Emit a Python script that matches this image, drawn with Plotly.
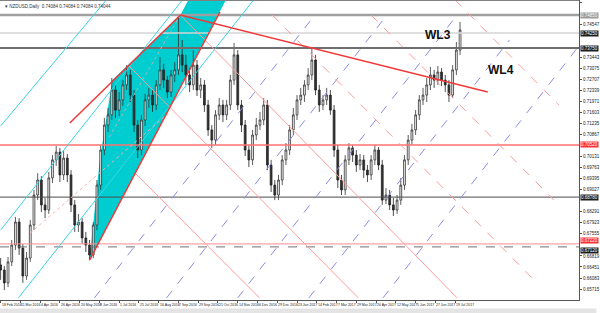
import plotly.graph_objects as go

# ---------------- data (NZDUSD daily, grouped 3 sessions per candle) ----------------
bar_step = 3
first_open = 0.6652
closes = [0.6635, 0.6592, 0.6662, 0.6718, 0.6795, 0.6708, 0.6615, 0.6675, 0.6785, 0.6885,
          0.6935, 0.6852, 0.6835, 0.6942, 0.7002, 0.7028, 0.6952, 0.7008, 0.6952, 0.6852,
          0.6785, 0.6795, 0.6742, 0.6718, 0.6685, 0.6785, 0.6918, 0.7035, 0.7118, 0.7152,
          0.7235, 0.7168, 0.7202, 0.7252, 0.7285, 0.7218, 0.7118, 0.7035, 0.7135, 0.7202,
          0.7218, 0.7185, 0.7252, 0.7302, 0.7268, 0.7228, 0.7285, 0.7302, 0.7352, 0.7318,
          0.7285, 0.7252, 0.7318, 0.7235, 0.7252, 0.7185, 0.7102, 0.7068, 0.7152, 0.7185,
          0.7152, 0.7185, 0.7268, 0.7352, 0.7185, 0.7118, 0.7035, 0.7002, 0.7085, 0.7118,
          0.7135, 0.7185, 0.6985, 0.6918, 0.6885, 0.6935, 0.7002, 0.7035, 0.7102, 0.7152,
          0.7202, 0.7218, 0.7252, 0.7285, 0.7335, 0.7235, 0.7185, 0.7202, 0.7218, 0.7168,
          0.7035, 0.6935, 0.6902, 0.7002, 0.7042, 0.7018, 0.6985, 0.7002, 0.6968, 0.6952,
          0.7002, 0.7035, 0.6985, 0.6868, 0.6885, 0.6852, 0.6835, 0.6868, 0.6918, 0.7002,
          0.7068, 0.7102, 0.7152, 0.7202, 0.7218, 0.7252, 0.7285, 0.7268, 0.7295, 0.7268,
          0.7252, 0.7218, 0.7302, 0.7368, 0.7435]
highs = [0.6675, 0.6648, 0.6678, 0.6735, 0.6812, 0.6808, 0.6722, 0.6695, 0.6802, 0.6902,
         0.6958, 0.6948, 0.6875, 0.6962, 0.7018, 0.7048, 0.7042, 0.7035, 0.7022, 0.6968,
         0.6868, 0.6822, 0.6808, 0.6762, 0.6735, 0.6795, 0.6935, 0.7052, 0.7142, 0.7175,
         0.7275, 0.7252, 0.7228, 0.7268, 0.7318, 0.7302, 0.7235, 0.7135, 0.7152, 0.7222,
         0.7242, 0.7235, 0.7268, 0.7345, 0.7322, 0.7282, 0.7302, 0.7328, 0.7485, 0.7402,
         0.7352, 0.7308, 0.7368, 0.7335, 0.7275, 0.7268, 0.7202, 0.7118, 0.7168, 0.7208,
         0.7202, 0.7202, 0.7285, 0.7392, 0.7368, 0.7202, 0.7135, 0.7052, 0.7102, 0.7142,
         0.7162, 0.7208, 0.7202, 0.7002, 0.6935, 0.6952, 0.7018, 0.7058, 0.7118, 0.7175,
         0.7218, 0.7242, 0.7268, 0.7308, 0.7375, 0.7352, 0.7252, 0.7218, 0.7242, 0.7235,
         0.7185, 0.7052, 0.6952, 0.7018, 0.7058, 0.7052, 0.7035, 0.7022, 0.7018, 0.6985,
         0.7018, 0.7052, 0.7045, 0.7002, 0.6908, 0.6902, 0.6875, 0.6885, 0.6942, 0.7018,
         0.7085, 0.7122, 0.7168, 0.7218, 0.7242, 0.7275, 0.7312, 0.7302, 0.7315, 0.7308,
         0.7285, 0.7268, 0.7318, 0.7395, 0.7462]
lows = [0.6602, 0.6568, 0.6578, 0.6648, 0.6702, 0.6685, 0.6592, 0.6602, 0.6662, 0.6768,
        0.6868, 0.6828, 0.6808, 0.6822, 0.6925, 0.6982, 0.6928, 0.6935, 0.6928, 0.6828,
        0.6762, 0.6762, 0.6722, 0.6695, 0.6668, 0.6675, 0.6768, 0.6902, 0.7018, 0.7095,
        0.7135, 0.7142, 0.7148, 0.7182, 0.7235, 0.7195, 0.7095, 0.7008, 0.7018, 0.7115,
        0.7175, 0.7162, 0.7168, 0.7235, 0.7242, 0.7208, 0.7212, 0.7262, 0.7285, 0.7295,
        0.7252, 0.7228, 0.7235, 0.7215, 0.7208, 0.7162, 0.7082, 0.7042, 0.7052, 0.7135,
        0.7128, 0.7135, 0.7168, 0.7252, 0.7168, 0.7095, 0.7015, 0.6978, 0.6985, 0.7068,
        0.7102, 0.7118, 0.6968, 0.6895, 0.6868, 0.6868, 0.6918, 0.6985, 0.7018, 0.7085,
        0.7135, 0.7185, 0.7195, 0.7235, 0.7268, 0.7218, 0.7162, 0.7168, 0.7185, 0.7152,
        0.7012, 0.6908, 0.6885, 0.6885, 0.6985, 0.6995, 0.6962, 0.6968, 0.6942, 0.6928,
        0.6935, 0.6985, 0.6968, 0.6852, 0.6855, 0.6835, 0.6815, 0.6822, 0.6852, 0.6902,
        0.6985, 0.7052, 0.7085, 0.7135, 0.7185, 0.7195, 0.7235, 0.7242, 0.7252, 0.7248,
        0.7228, 0.7195, 0.7208, 0.7285, 0.7352]

date_tick_bars = [0, 16, 32, 48, 64, 80, 96, 112, 128, 144, 160, 176, 192, 208, 224, 240,
                  256, 272, 288, 304, 320, 336, 352, 368]
date_tick_text = ["18 Feb 2016", "11 Mar 2016", "4 Apr 2016", "26 Apr 2016", "20 May 2016",
                  "9 Jun 2016", "1 Jul 2016", "25 Jul 2016", "16 Aug 2016", "7 Sep 2016",
                  "29 Sep 2016", "21 Oct 2016", "14 Nov 2016", "6 Dec 2016", "29 Dec 2016",
                  "23 Jan 2017", "14 Feb 2017", "7 Mar 2017", "29 Mar 2017", "20 Apr 2017",
                  "12 May 2017", "5 Jun 2017", "27 Jun 2017", "19 Jul 2017"]
price_ticks = [0.75283, 0.74915, 0.74547, 0.74179, 0.73811, 0.73443, 0.73075, 0.72707,
               0.72339, 0.71971, 0.71603, 0.71235, 0.70867, 0.70499, 0.70131, 0.69763,
               0.69395, 0.69027, 0.68659, 0.68291, 0.67923, 0.67555, 0.67187, 0.66819,
               0.66451, 0.66083, 0.65715]

# horizontal levels
level_prices = [0.7485, 0.7425, 0.7375, 0.7052, 0.6878, 0.6722, 0.6712]

# drawn objects, as (bar0, price0, bar1, price1)
cyan_zone_bars = [72, 80, 90.4, 145.6, 152, 182.4]
cyan_zone_prices = [0.6668, 0.6992, 0.7268, 0.7485, 0.7535, 0.7535]
cyan_lines = [(0, 0.7115, 85.6, 0.7535), (0, 0.6768, 147.2, 0.7535), (14.4, 0.6542, 204.8, 0.7535)]
channel_red = [(56, 0.7125, 145.6, 0.7485), (72, 0.6668, 177.6, 0.7495)]
wl4_line = [(145.6, 0.7485, 394.4, 0.7228)]
thin_red = [(145.6, 0.7485, 369.6, 0.6542), (104, 0.7315, 289.6, 0.6542), (109.6, 0.6955, 209.6, 0.6542)]
blue_dashed = [(76, 0.6542, 254.4, 0.7485), (134.4, 0.6542, 312.8, 0.7485), (192, 0.6542, 369.6, 0.7485),
               (249.6, 0.6542, 412, 0.7402), (309.6, 0.6542, 468.8, 0.7385)]
red_dashed = [(220, 0.7485, 430.4, 0.6608), (300, 0.7485, 448, 0.6868), (368, 0.7535, 452, 0.7185)]
pink_dotted = [(24, 0.6758, 136, 0.7158)]
gray_dotted = [(88, 0.7078, 145.6, 0.7485)]

header_text = "▾ NZDUSD,Daily  0.74084 0.74084 0.74084 0.74044"
labels = [("WL3", 354.5, 0.7420), ("WL4", 405.5, 0.7302)]

# ---------------- figure ----------------
opens = [first_open] + closes[:-1]
bars = list(range(0, bar_step * len(closes), bar_step))

fig = go.Figure()
fig.add_trace(go.Candlestick(
    x=bars, open=opens, high=highs, low=lows, close=closes, whiskerwidth=0,
    increasing=dict(line=dict(color="#333333", width=0.8), fillcolor="#f4f4f4"),
    decreasing=dict(line=dict(color="#222222", width=0.8), fillcolor="#333333"),
    hoverinfo="skip"))

shapes = []
path = "M " + " L ".join(f"{b},{p}" for b, p in zip(cyan_zone_bars, cyan_zone_prices)) + " Z"
shapes.append(dict(type="path", path=path, xref="x", yref="y", fillcolor="#00cdd0",
                   line=dict(width=0), layer="below"))


def seg(lst, color, width, dash="solid"):
    for b0, p0, b1, p1 in lst:
        shapes.append(dict(type="line", xref="x", yref="y", x0=b0, y0=p0, x1=b1, y1=p1,
                           line=dict(color=color, width=width, dash=dash), layer="above"))


level_styles = [("#a0a0a0", 2.5, "solid"), ("#d4d4d4", 1.5, "solid"), ("#6e6e6e", 2, "solid"),
                ("#ff7070", 1.5, "solid"), ("#4a4a4a", 1, "solid"), ("#ff9090", 1, "solid"),
                ("#707070", 1, "dash")]
level_box = ["#9a9a9a", "#1e1e1e", "#1e1e1e", "#ff3030", "#1e1e1e", "#ff3030", "#1e1e1e"]
level_anchor = ["middle", "middle", "middle", "middle", "middle", "bottom", "top"]
for p, (c, w, d) in zip(level_prices, level_styles):
    shapes.append(dict(type="line", xref="paper", yref="y", x0=0, x1=1, y0=p, y1=p,
                       line=dict(color=c, width=w, dash=d), layer="above"))

seg(cyan_lines, "#3ad6e0", 1)
seg(blue_dashed, "#8c8ce6", 1, "dash")
seg(red_dashed, "#ff9a9a", 1, "dash")
seg(thin_red, "#ff9c9c", 1)
seg(pink_dotted, "#ffb0b0", 1, "dot")
seg(gray_dotted, "#b8b8b8", 1, "dot")
seg(channel_red, "#f03838", 1.5)
seg(wl4_line, "#f03838", 1.5)

# top border and bottom tab bar
shapes.append(dict(type="line", xref="paper", yref="paper", x0=0, x1=1, y0=1, y1=1,
                   line=dict(color="#808080", width=2)))
shapes.append(dict(type="rect", xref="paper", yref="paper", x0=0, x1=1.03, y0=-0.045, y1=-0.028,
                   fillcolor="#e4e4e4", line=dict(width=0)))

# price ticks that are not hidden by a level box
shown_ticks = [v for v in price_ticks if min(abs(v - p) for p in level_prices) > 0.0022]

annotations = []
for b, t in zip(date_tick_bars, date_tick_text):
    annotations.append(dict(x=b, y=0, xref="x", yref="paper", text=t, showarrow=False,
                            xanchor="left", yanchor="top", yshift=-1, xshift=-1,
                            font=dict(size=3.5, color="#222", family="Liberation Sans")))
for p, c, a in zip(level_prices, level_box, level_anchor):
    annotations.append(dict(x=1, y=p, xref="paper", yref="y", text=f"{p:.5f}", showarrow=False,
                            xanchor="left", yanchor=a, xshift=1, bgcolor=c, borderpad=0,
                            font=dict(size=4.5, color="#ffffff", family="Liberation Sans")))
for t, b, p in labels:
    annotations.append(dict(x=b, y=p, xref="x", yref="y", text=f"<b>{t}</b>", showarrow=False,
                            font=dict(size=12, color="#111", family="Liberation Sans")))
annotations.append(dict(x=0.005, y=0.995, xref="paper", yref="paper", text=header_text,
                        showarrow=False, xanchor="left", yanchor="top",
                        font=dict(size=4.5, color="#333", family="Liberation Sans")))

fig.update_layout(
    width=600, height=313, margin=dict(l=0, r=14, t=0, b=13),
    paper_bgcolor="white", plot_bgcolor="white", showlegend=False,
    shapes=shapes, annotations=annotations,
    xaxis=dict(range=[-0.5, 468.3], showgrid=False, zeroline=False, showticklabels=False,
               rangeslider=dict(visible=False), showline=True, linecolor="#555", linewidth=1,
               tickvals=date_tick_bars, ticks="outside", ticklen=2, tickcolor="#555"),
    yaxis=dict(range=[0.6535, 0.7535], side="right", showgrid=False, zeroline=False,
               tickvals=shown_ticks, ticktext=[f"{v:.5f}" for v in shown_ticks],
               tickfont=dict(size=4.5, color="#222", family="Liberation Sans"),
               showline=True, linecolor="#555", linewidth=1, ticks="outside", ticklen=2,
               tickcolor="#555"),
)
fig.write_html("out.html")
